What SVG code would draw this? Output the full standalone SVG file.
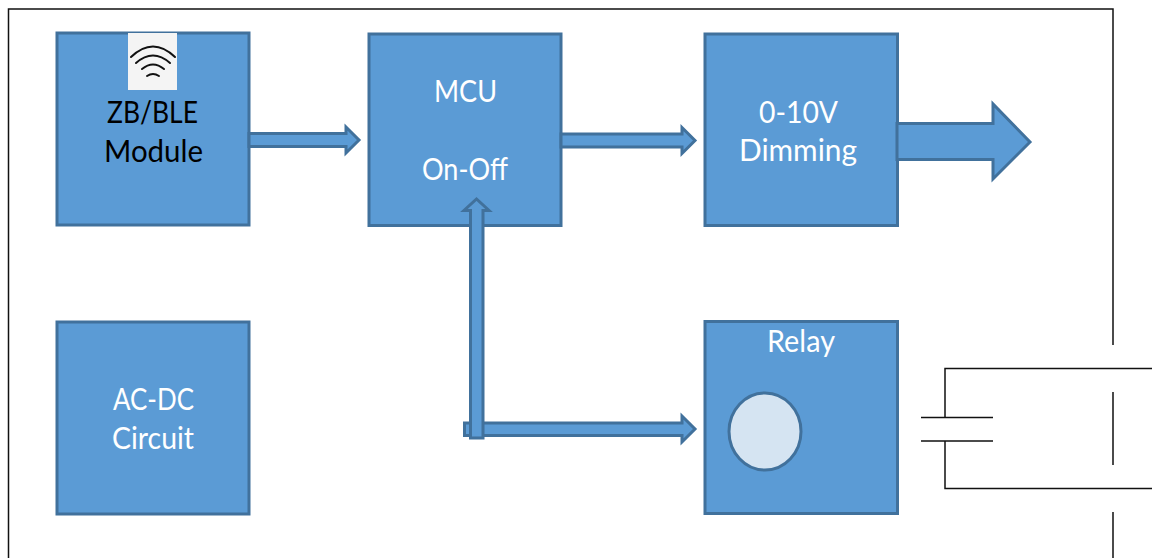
<svg xmlns="http://www.w3.org/2000/svg" width="1152" height="558" viewBox="0 0 1152 558">
<style>
.b{fill:#5b9bd5;stroke:#41719c;stroke-width:3}
.w{stroke:#111;stroke-width:1.500;fill:none}
text{font-family:Lato,"Liberation Sans",sans-serif;font-size:30px;text-anchor:middle;fill:#fff}
.k{fill:#000}
</style>
<rect width="1152" height="558" fill="#fff"/>
<g id="frame">
<path class="w" d="M8.500 558V9H1113V345"/>
<path class="w" d="M1113 392V465M1113 512V558"/>
<path class="w" d="M1152 368.500H945V417M945 441V488.500H1152M921 417.500H993M921 441H993"/>
</g>
<g id="zb-ble">
<rect class="b" x="57" y="33" width="192" height="192"/>
<rect x="128" y="33" width="49" height="57" fill="#f4f4f4"/>
<g fill="none" stroke="#111" stroke-width="2" stroke-linecap="round">
<path d="M131 57Q153 36 175 57"/>
<path d="M136 63Q153 48 170 63"/>
<path d="M142 69Q153 60 164 69"/>
<path d="M147 76Q153 72 159 76"/>
</g>
<text class="k" x="152.500" y="123" textLength="91" lengthAdjust="spacingAndGlyphs">ZB/BLE</text>
<text class="k" x="153.500" y="162" textLength="99" lengthAdjust="spacingAndGlyphs">Module</text>
</g>
<g id="mcu">
<rect class="b" x="369" y="34" width="192" height="191.500"/>
<text x="465.500" y="102" textLength="63" lengthAdjust="spacingAndGlyphs">MCU</text>
<text x="465" y="180" textLength="86" lengthAdjust="spacingAndGlyphs">On-Off</text>
</g>
<g id="dimming">
<rect class="b" x="705" y="34" width="192.500" height="191.500"/>
<text x="798.500" y="123" textLength="79" lengthAdjust="spacingAndGlyphs">0-10V</text>
<text x="798" y="161" textLength="118" lengthAdjust="spacingAndGlyphs">Dimming</text>
</g>
<g id="ac-dc">
<rect class="b" x="57" y="322" width="192" height="192"/>
<text x="153.500" y="410" textLength="81" lengthAdjust="spacingAndGlyphs">AC-DC</text>
<text x="153" y="449" textLength="82" lengthAdjust="spacingAndGlyphs">Circuit</text>
</g>
<g id="relay">
<rect class="b" x="705" y="321.500" width="192.500" height="192"/>
<text x="801" y="352" textLength="68" lengthAdjust="spacingAndGlyphs">Relay</text>
<ellipse cx="765" cy="431.500" rx="36" ry="38.500" fill="#d5e4f2" stroke="#41719c" stroke-width="3"/>
</g>
<g id="connectors">
<path class="b" d="M249 133.500H346V127L359 140L346 153V146.500H249Z"/>
<path class="b" d="M561 134H682V127.500L695 140.500L682 153.500V147H561Z"/>
<path class="b" d="M897 123.500H993V104L1030 142L993 179V159.500H897Z"/>
<path class="b" d="M464.500 423H682V416L695 429L682 442V435.500H464.500Z"/>
<path class="b" d="M470.500 438V210.500H464L476.500 199L489 210.500H483V438Z"/>
</g>
</svg>
